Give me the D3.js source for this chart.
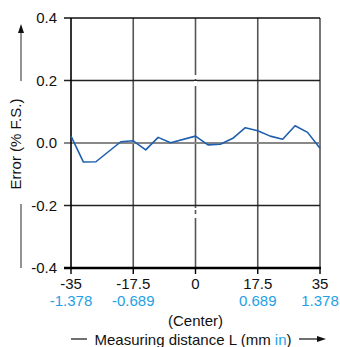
<!DOCTYPE html>
<html><head><meta charset="utf-8">
<script src="https://cdn.jsdelivr.net/npm/d3@7"></script>
<style>body{margin:0;background:#fff;} svg{display:block;font-family:"Liberation Sans",Arial,sans-serif;}</style>
</head><body>
<script>
const xMm = [-35,-31.5,-28,-21,-17.5,-14,-10.5,-7,0,3.5,7,10.5,14,17.5,21,24.5,28,31.5,35];
const errPct = [0.022,-0.061,-0.060,0.004,0.007,-0.022,0.018,0.001,0.022,-0.006,-0.004,0.015,0.049,0.039,0.022,0.012,0.055,0.034,-0.017];
const xTicks = [-35,-17.5,0,17.5,35];
const xTickLabels = ["-35","-17.5","0","17.5","35"];
const inchLabels = ["-1.378","-0.689","","0.689","1.378"];
const yTicks = [0.4,0.2,0.0,-0.2,-0.4];
const yTickLabels = ["0.4","0.2","0.0","-0.2","-0.4"];

const W=340,H=347, L=71, R=320, T=18, B=268;
const FS=15;
const svg=d3.select("body").append("svg").attr("width",W).attr("height",H);
const x=d3.scaleLinear().domain([-35,35]).range([L,R]);
const y=d3.scaleLinear().domain([-0.4,0.4]).range([B,T]);

// vertical grid lines
svg.selectAll(".vg").data(xTicks.slice(1)).enter().append("line")
  .attr("x1",d=>x(d)).attr("x2",d=>x(d)).attr("y1",T).attr("y2",B)
  .attr("stroke","#555").attr("stroke-width",1.6);
// horizontal grid lines
svg.selectAll(".hg").data([0.2,-0.2]).enter().append("line")
  .attr("x1",L-7).attr("x2",R).attr("y1",d=>y(d)).attr("y2",d=>y(d))
  .attr("stroke","#222").attr("stroke-width",1.3);
// zero line
svg.append("line").attr("x1",L-7).attr("x2",R).attr("y1",y(0)).attr("y2",y(0))
  .attr("stroke","#888").attr("stroke-width",2.2);
// top line
svg.append("line").attr("x1",L-7).attr("x2",R).attr("y1",y(0.4)).attr("y2",y(0.4))
  .attr("stroke","#111").attr("stroke-width",1.4);
// small gaps on centre line
[[75,79],[81,86],[208,210],[214,218]].forEach(g=>{
  svg.append("rect").attr("x",x(0)-1.5).attr("width",3).attr("y",g[0]).attr("height",g[1]-g[0]).attr("fill","#fff");
});
// left axis
svg.append("line").attr("x1",L).attr("x2",L).attr("y1",T).attr("y2",B).attr("stroke","#000").attr("stroke-width",1.6);
// bottom axis
svg.append("line").attr("x1",L-7).attr("x2",R+1).attr("y1",B).attr("y2",B).attr("stroke","#000").attr("stroke-width",2.4);
svg.selectAll(".bt").data(xTicks).enter().append("line")
  .attr("x1",d=>x(d)).attr("x2",d=>x(d)).attr("y1",B).attr("y2",B+6)
  .attr("stroke","#000").attr("stroke-width",1.4);

// data line
const line=d3.line().x((d,i)=>x(xMm[i])).y(d=>y(d));
svg.append("path").datum(errPct).attr("d",line).attr("fill","none")
  .attr("stroke","#1d5fae").attr("stroke-width",1.6).attr("stroke-linejoin","round");

// y tick labels
svg.selectAll(".yl").data(yTicks).enter().append("text")
  .attr("x",57).attr("y",d=>y(d)+5).attr("text-anchor","end")
  .attr("font-size",FS).attr("fill","#111").text((d,i)=>yTickLabels[i]);
// x tick labels
svg.selectAll(".xl").data(xTicks).enter().append("text")
  .attr("x",d=>x(d)).attr("y",289).attr("text-anchor","middle")
  .attr("font-size",FS).attr("fill","#111").text((d,i)=>xTickLabels[i]);
svg.selectAll(".il").data(xTicks).enter().append("text")
  .attr("x",d=>x(d)).attr("y",306).attr("text-anchor","middle")
  .attr("font-size",FS).attr("fill","#1ea0e6").text((d,i)=>inchLabels[i]);
svg.append("text").attr("x",x(0)).attr("y",326).attr("text-anchor","middle")
  .attr("font-size",FS).attr("fill","#111").text("(Center)");

// x title
const xt=svg.append("text").attr("x",193).attr("y",345).attr("text-anchor","middle")
  .attr("font-size",FS).attr("fill","#111");
xt.append("tspan").text("Measuring distance L (mm ");
xt.append("tspan").attr("fill","#1ea0e6").text("in");
xt.append("tspan").text(")");
svg.append("line").attr("x1",71).attr("x2",87).attr("y1",339).attr("y2",339).attr("stroke","#111").attr("stroke-width",1.2);
svg.append("line").attr("x1",299).attr("x2",318).attr("y1",339).attr("y2",339).attr("stroke","#111").attr("stroke-width",1.2);
svg.append("path").attr("d","M326,339 L317,336 L317,342 Z").attr("fill","#111");

// y title
svg.append("text").attr("transform","translate(21,144) rotate(-90)").attr("text-anchor","middle")
  .attr("font-size",FS).attr("fill","#111").text("Error (% F.S.)");
svg.append("line").attr("x1",21).attr("x2",21).attr("y1",81).attr("y2",32).attr("stroke","#777").attr("stroke-width",1.6);
svg.append("path").attr("d","M21,24 L18,33 L24,33 Z").attr("fill","#111");
svg.append("line").attr("x1",21).attr("x2",21).attr("y1",204).attr("y2",268).attr("stroke","#777").attr("stroke-width",1.6);
</script>
</body></html>
